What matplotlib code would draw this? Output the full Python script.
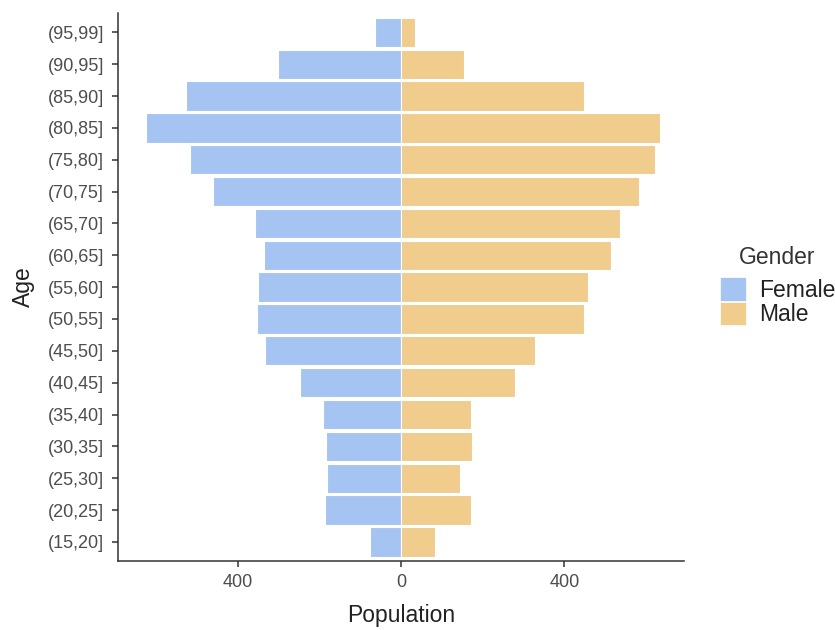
import matplotlib.pyplot as plt
import numpy as np
from matplotlib.patches import Patch
from matplotlib.ticker import FuncFormatter

plt.rcParams['font.family'] = ['Liberation Sans', 'DejaVu Sans']

ages = ["(15,20]", "(20,25]", "(25,30]", "(30,35]", "(35,40]", "(40,45]",
        "(45,50]", "(50,55]", "(55,60]", "(60,65]", "(65,70]", "(70,75]",
        "(75,80]", "(80,85]", "(85,90]", "(90,95]", "(95,99]"]
female = [75, 186, 181, 184, 192, 247, 332, 352, 349, 335, 358, 460, 516, 625, 527, 302, 64]
male = [84, 172, 144, 174, 172, 278, 329, 449, 458, 513, 537, 582, 622, 633, 449, 153, 34]

c_female = "#A6C4F1"
c_male = "#F0CC8D"
dark = "#4D4D4D"

fig = plt.figure(figsize=(8.35, 6.3), dpi=100)
ax = fig.add_axes([0.1413, 0.1095, 0.678, 0.8695])

y = np.arange(len(ages))
ax.barh(y, -np.array(female), height=0.92, color=c_female, edgecolor="white", linewidth=0.8)
ax.barh(y, male, height=0.92, color=c_male, edgecolor="white", linewidth=0.8)

ax.set_xlim(-693, 693)
ax.set_ylim(-0.6, len(ages) - 0.4)
ax.set_yticks(y, ages)
ax.set_xticks([-400, 0, 400])
ax.xaxis.set_major_formatter(FuncFormatter(lambda v, p: f"{abs(int(v))}"))

for s in ["top", "right"]:
    ax.spines[s].set_visible(False)
for s in ["left", "bottom"]:
    ax.spines[s].set_color("#333333")
    ax.spines[s].set_linewidth(1.1)
ax.tick_params(axis="both", colors="#333333", labelcolor=dark, labelsize=13,
               length=4, width=1.1)
ax.tick_params(axis="y", pad=6)
ax.tick_params(axis="x", pad=5)

ax.set_xlabel("Population", fontsize=16.5, color="#222222", labelpad=10)
ax.set_ylabel("Age", fontsize=16.5, color="#222222", labelpad=9)

handles = [Patch(facecolor=c_female, edgecolor="white", linewidth=0.5, label="Female"),
           Patch(facecolor=c_male, edgecolor="white", linewidth=0.5, label="Male")]
leg = fig.legend(handles=handles, title="Gender", loc="upper left",
                 bbox_to_anchor=(0.862, 0.6095), frameon=False, fontsize=16.5,
                 title_fontsize=16.5, handlelength=1.15, handleheight=1.2,
                 handletextpad=0.55, labelspacing=0.0, borderpad=0,
                 borderaxespad=0, alignment="center")
leg._legend_box.sep = 6
for t in leg.get_texts():
    t.set_color("#222222")
leg.get_title().set_color("#333333")

fig.savefig("out.png", dpi=100)
